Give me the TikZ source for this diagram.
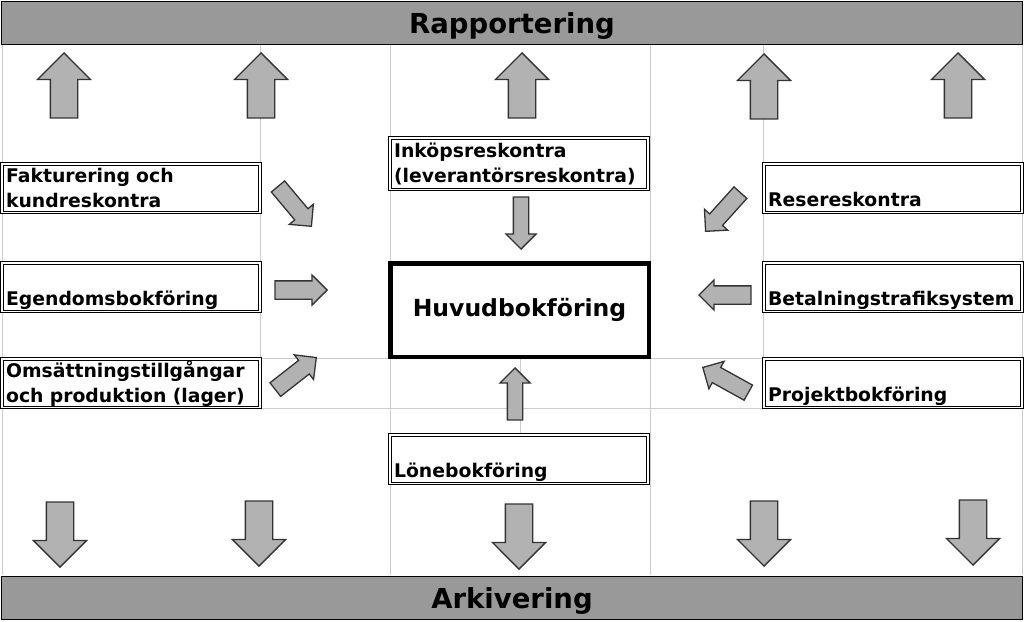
\documentclass[tikz,border=0pt]{standalone}
\usepackage{fontspec}
\setmainfont{DejaVu Sans}
\usepackage{tikz}
\usetikzlibrary{shapes,arrows,positioning,calc}
\tikzset{
bar/.style = {draw, line width=1.6pt, fill=gray!80, rectangle, minimum width=1021pt, minimum height=43pt, text height=20pt, text depth=0pt, font=\fontsize{27.5}{30}\selectfont\bfseries},
cell/.style = {draw, double, double distance=1.4pt, line width=1pt, fill=white, rectangle, anchor=north west, text width=250pt, align=left, inner xsep=4pt, inner ysep=0pt, font=\fontsize{18.8}{24.5}\selectfont\bfseries},
twolines/.style = {text height=18.5pt, text depth=30.1pt},
oneline/.style = {text height=42.1pt, text depth=6.5pt},
mainbox/.style = {draw, line width=4.5pt, fill=white, rectangle, minimum width=258.5pt, minimum height=93.5pt, font=\fontsize{23.5}{28}\selectfont\bfseries},
bigarrow/.style = {single arrow, draw=black!80, line width=1.3pt, fill=gray!60, inner xsep=0pt, inner ysep=13pt, single arrow head extend=13pt, minimum height=65pt, anchor=tip},
smallarrow/.style = {single arrow, draw=black!80, line width=1.3pt, fill=gray!60, inner xsep=0pt, inner ysep=8pt, single arrow head extend=7pt, minimum height=52pt, anchor=tip},
gridline/.style = {draw=black!20, line width=0.8pt}
}
\begin{document}
\begin{tikzpicture}[x=1pt, y=-1pt]
    \useasboundingbox (0,0) rectangle (1024,621);

    % cell grid
    \draw[gridline] (2,45) -- (2,575);
    \draw[gridline] (1022,45) -- (1022,575);
    \draw[gridline] (390,45) -- (390,575);
    \draw[gridline] (650,45) -- (650,575);
    \draw[gridline] (260,45) -- (260,358);
    \draw[gridline] (763,45) -- (763,408);
    \draw[gridline] (520,358) -- (520,433);
    \draw[gridline] (2,358) -- (1022,358);
    \draw[gridline] (2,408) -- (1022,408);

    \node [bar] (rap) at (512,23) {Rapportering};
    \node [bar] (ark) at (512,598) {Arkivering};

    \node [cell, twolines] (fak) at (1.6,163.6) {Fakturering och\\kundreskontra};
    \node [cell, oneline] (ege) at (1.6,262.6) {Egendomsbokföring};
    \node [cell, twolines] (oms) at (1.6,358.6) {Omsättningstillgångar\\och produktion (lager)};
    \node [cell, twolines, text height=19.5pt, text depth=32.1pt] (ink) at (389.6,137.6) {Inköpsreskontra\\(leverantörsreskontra)};
    \node [cell, oneline] (lon) at (389.6,434.6) {Lönebokföring};
    \node [cell, oneline] (res) at (763.6,163.6) {Resereskontra};
    \node [cell, oneline] (bet) at (763.6,262.6) {Betalningstrafiksystem};
    \node [cell, oneline] (pro) at (763.6,358.6) {Projektbokföring};
    \node [mainbox] (huv) at (519.5,310) {Huvudbokföring};

    \node [bigarrow, rotate=90] (up1) at (64,52) {};
    \node [bigarrow, rotate=90] (up2) at (261,52) {};
    \node [bigarrow, rotate=90] (up3) at (522,52) {};
    \node [bigarrow, rotate=90] (up4) at (764,53) {};
    \node [bigarrow, rotate=90] (up5) at (958,52) {};

    \node [bigarrow, rotate=-90] (down1) at (60,568) {};
    \node [bigarrow, rotate=-90] (down2) at (259,567) {};
    \node [bigarrow, rotate=-90] (down3) at (519,570) {};
    \node [bigarrow, rotate=-90] (down4) at (764,567) {};
    \node [bigarrow, rotate=-90] (down5) at (973,566) {};

    \node [smallarrow, rotate=-90, inner ysep=7pt, single arrow head extend=7.5pt] (inkarrow) at (521,250) {};
    \node [smallarrow, rotate=90, inner ysep=7pt, single arrow head extend=7.5pt] (lonarrow) at (515,367) {};
    \node [smallarrow, inner ysep=8.5pt, single arrow head extend=6pt] (egearrow) at (328,290) {};
    \node [smallarrow, rotate=180, inner ysep=8.5pt, single arrow head extend=6pt] (betarrow) at (698,295) {};
    \node [smallarrow, rotate=-50] (fakarrow) at (312,227) {};
    \node [smallarrow, rotate=38] (omsarrow) at (317,357) {};
    \node [smallarrow, rotate=-132] (resarrow) at (705,232) {};
    \node [smallarrow, rotate=151] (proarrow) at (702,367) {};
\end{tikzpicture}
\end{document}
